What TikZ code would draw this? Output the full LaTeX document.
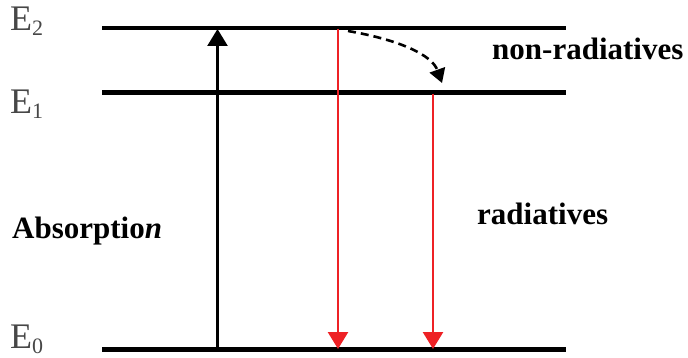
\documentclass[tikz,border=0pt]{standalone}
\usepackage{fontspec}
\setmainfont{Liberation Serif}
\usetikzlibrary{arrows.meta}
\definecolor{radred}{HTML}{EE2125}
\definecolor{lvlgray}{gray}{0.28}

\begin{document}
\begin{tikzpicture}[x=1pt,y=-1pt,
  energyline/.style={line width=4.5pt},
  elabel/.style={anchor=base west,inner sep=0pt,text=lvlgray,font=\fontsize{36}{40}\selectfont},
  blabel/.style={anchor=base west,inner sep=0pt,font=\fontsize{31}{36}\selectfont\bfseries},
  updown/.style={line width=2.6pt,-{Triangle[length=17pt,width=20pt]}}]
  \useasboundingbox (0,0) rectangle (688,358);
  % energy levels
  \coordinate (E2l) at (102,28);  \coordinate (E2r) at (566,28);
  \coordinate (E1l) at (102,92.5);\coordinate (E1r) at (566,92.5);
  \coordinate (E0l) at (102,349.5);\coordinate (E0r) at (566,349.5);
  \draw[energyline] (E2l) -- (E2r);
  \draw[energyline] (E1l) -- (E1r);
  \draw[energyline] (E0l) -- (E0r);
  \node[elabel] (e2) at (10,31) {E\raisebox{-5pt}{\fontsize{22}{22}\selectfont 2}};
  \node[elabel] (e1) at (10,114) {E\raisebox{-5pt}{\fontsize{22}{22}\selectfont 1}};
  \node[elabel] (e0) at (10,348) {E\raisebox{-5pt}{\fontsize{22}{22}\selectfont 0}};
  % transitions
  \coordinate (abs0) at (217.5,347);  \coordinate (abs2) at (217.5,29);
  \coordinate (rad2) at (338,29);     \coordinate (rad0a) at (338,349);
  \coordinate (rad1) at (433,94);     \coordinate (rad0b) at (433,349);
  \coordinate (nr0) at (348,31);      \coordinate (nr1) at (442,83);
  \draw[updown] (abs0) -- (abs2);
  \draw[updown,radred] (rad2) -- (rad0a);
  \draw[updown,radred] (rad1) -- (rad0b);
  \draw[line width=2.6pt,dash pattern=on 8pt off 5pt,-{Triangle[length=14pt,width=16pt]}]
    (nr0) .. controls (400,40) and (432,55) .. (nr1);
  % labels
  \node[blabel] (absl) at (12,238) {Absorptio\textit{n}};
  \node[blabel] (nrl) at (492,60) {non-radiatives};
  \node[blabel] (rl) at (477,225) {radiatives};
\end{tikzpicture}
\end{document}
